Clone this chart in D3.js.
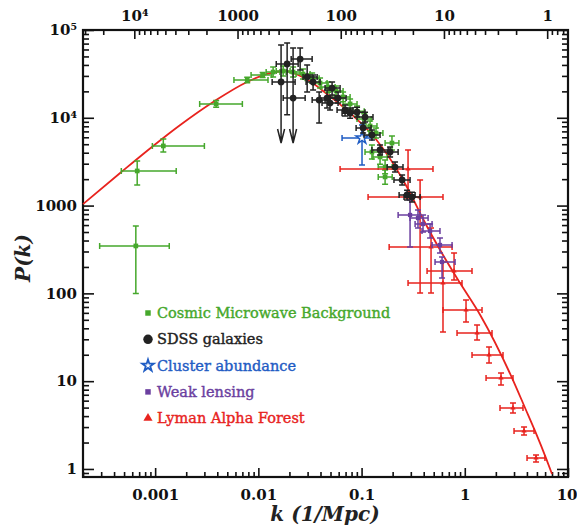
<!DOCTYPE html>
<html>
<head>
<meta charset="utf-8">
<title>P(k)</title>
<style>
  *{margin:0;padding:0;}
  body{background:#fff;}
  svg{display:block;}
  .tick text{font-family:"DejaVu Serif",serif;font-weight:bold;font-size:15px;fill:#111;}
</style>
</head>
<body>
<div class="container"></div>
<script src="https://cdn.jsdelivr.net/npm/d3@7/dist/d3.min.js"></script>
<script>
var width = 577, height = 528;
var plotLeft = 83, plotRight = 568, plotTop = 30, plotBottom = 477;

// tick labels
var kTicks = [0.001, 0.01, 0.1, 1, 10];
var kTickLabels = ["0.001", "0.01", "0.1", "1", "10"];
var pTicks = [1, 10, 100, 1000, 1e4, 1e5];
var pTickLabels = ["1", "10", "100", "1000", "10\u2074", "10\u2075"];
var lambdaTicks = [1e4, 1000, 100, 10, 1];
var lambdaTickLabels = ["10\u2074", "1000", "100", "10", "1"];

// model curve
var theoryK = [2.0e-4, 4.58e-4, 9.56e-4, 1.75e-3, 3.65e-3, 7.78e-3, 0.0122, 0.0182, 0.0243, 0.0324,
               0.0474, 0.0774, 0.135, 0.282, 0.394, 0.615, 0.90, 1.41, 2.93, 3.84, 4.79, 6.12, 7.0];
var theoryP = [1040, 2350, 4775, 8280, 15140, 25600, 31550, 34100, 30700, 25600,
               18200, 11350, 5890, 1545, 703, 274, 131, 56.8, 10.3, 4.95, 2.71, 1.33, 0.877];

// [k, P, kLo, kHi, PLo, PHi]
var cmbData = [
  [6.5e-4, 347, 2.9e-4, 1.37e-3, 100, 586],
  [6.7e-4, 2480, 4.7e-4, 1.6e-3, 1720, 3220],
  [1.2e-3, 4780, 9.4e-4, 3.0e-3, 4070, 5750],
  [3.9e-3, 14400, 2.7e-3, 7.0e-3, 13200, 15700],
  [7.8e-3, 26900, 5.8e-3, 0.0124, 25000, 29000],
  [0.011, 30700, 0.0085, 0.0135, 28800, 32800],
  [0.0139, 33200, 0.0119, 0.0162, 29100, 37800],
  [0.0174, 34100, 0.0149, 0.0203, 29900, 38900],
  [0.0217, 33200, 0.0186, 0.0254, 29100, 37800],
  [0.0271, 31500, 0.0232, 0.0317, 27600, 35900],
  [0.0332, 28300, 0.0284, 0.0388, 24800, 32300],
  [0.0396, 24900, 0.0339, 0.0463, 21800, 28400],
  [0.0474, 22400, 0.0405, 0.0554, 19600, 25500],
  [0.0566, 20200, 0.0484, 0.0662, 17700, 23000],
  [0.0662, 17300, 0.0566, 0.0774, 15200, 19700],
  [0.0774, 14400, 0.0662, 0.0904, 12600, 16400],
  [0.0904, 11900, 0.0774, 0.106, 10400, 13600],
  [0.106, 9700, 0.0904, 0.124, 8500, 11100],
  [0.121, 8070, 0.104, 0.141, 7080, 9200],
  [0.138, 6710, 0.118, 0.161, 5890, 7650],
  [0.126, 4080, 0.108, 0.147, 3400, 4900],
  [0.151, 3580, 0.129, 0.177, 2950, 4300],
  [0.169, 2750, 0.145, 0.198, 2300, 3300],
  [0.169, 2120, 0.145, 0.198, 1750, 2550],
  [0.197, 5160, 0.169, 0.230, 4300, 6200]
];

var sdssData = [
  [0.0166, 25600, 0.0136, 0.0227, 5160, 67500],
  [0.0190, 41000, 0.0149, 0.0243, 10800, 71100],
  [0.0217, 16800, 0.0174, 0.0284, 5160, 62300],
  [0.0254, 46700, 0.0208, 0.0332, 35000, 62300],
  [0.0297, 29200, 0.0271, 0.0371, 19700, 39900],
  [0.0339, 25600, 0.0290, 0.0396, 20700, 30800],
  [0.0388, 15900, 0.0332, 0.0443, 8730, 19700],
  [0.0463, 16800, 0.0396, 0.0554, 12900, 20700],
  [0.0518, 21800, 0.0443, 0.0619, 18200, 25600],
  [0.0495, 14700, 0.0414, 0.0592, 12300, 17700],
  [0.0592, 16800, 0.0495, 0.0708, 14700, 19700],
  [0.0692, 12300, 0.0579, 0.0828, 10500, 14000],
  [0.0774, 11300, 0.0647, 0.0925, 9900, 12900],
  [0.0904, 11600, 0.0757, 0.108, 10200, 13200],
  [0.108, 10200, 0.0904, 0.129, 8950, 11600],
  [0.1035, 7650, 0.0885, 0.1236, 6700, 8720],
  [0.126, 6370, 0.1057, 0.151, 5590, 7260],
  [0.151, 4300, 0.126, 0.181, 3770, 4900],
  [0.189, 4080, 0.158, 0.226, 3580, 4650],
  [0.211, 2750, 0.177, 0.252, 2410, 3130],
  [0.247, 1960, 0.206, 0.295, 1720, 2230],
  [0.276, 1320, 0.231, 0.330, 1160, 1500],
  [0.308, 1250, 0.258, 0.369, 1100, 1420]
];
// rows whose lower error is only an upper limit (drawn as an arrow)
var sdssUpperLimits = [0, 2];

var clusterData = [
  [0.101, 5890, 0.0647, 0.126, 2900, 8280]
];

var lensingData = [
  [0.295, 782, 0.226, 0.369, 338, 1160],
  [0.352, 722, 0.295, 0.441, 556, 891],
  [0.394, 617, 0.330, 0.482, 500, 782],
  [0.461, 514, 0.385, 0.575, 428, 617],
  [0.575, 356, 0.482, 0.753, 288, 428],
  [0.602, 228, 0.515, 0.805, 150, 260]
];

var lymanData = [
  [0.282, 2610, 0.0619, 0.492, 1220, 4300],
  [0.369, 1250, 0.1156, 0.615, 101, 1960],
  [0.471, 338, 0.185, 0.753, 101, 556],
  [0.787, 180, 0.431, 1.175, 142, 288],
  [0.615, 131, 0.282, 0.940, 36.3, 228],
  [1.028, 64.7, 0.615, 1.469, 47.2, 84.1],
  [1.315, 35.4, 0.841, 1.836, 29.5, 43.6],
  [1.718, 19.9, 1.175, 2.346, 16.1, 24.5],
  [2.244, 10.9, 1.607, 2.931, 9.06, 12.4],
  [2.931, 4.95, 2.194, 3.664, 4.34, 5.65],
  [3.750, 2.71, 3.0, 4.69, 2.44, 3.01],
  [4.90, 1.33, 4.01, 5.98, 1.20, 1.44]
];

var legendLabels = ["Cosmic Microwave Background", "SDSS galaxies", "Cluster abundance", "Weak lensing", "Lyman Alpha Forest"];
var legendColors = ["#46a82c", "#222222", "#1f5cc4", "#6b3fa0", "#e8231e"];

var green = legendColors[0], black = legendColors[1], blue = legendColors[2], purple = legendColors[3], red = legendColors[4];

var svg = d3.select(".container").append("svg")
    .attr("width", width)
    .attr("height", height);

var x = d3.scaleLog().domain([2e-4, 10]).range([plotLeft, plotRight]);
var y = d3.scaleLog().domain([0.81, 1e5]).range([plotBottom, plotTop]);
// wavelength 2*pi/k on the top axis
var xTop = d3.scaleLog().domain([2 * Math.PI / 2e-4, 2 * Math.PI / 10]).range([plotLeft, plotRight]);

function isDecade(v) {
  var l = Math.log10(v);
  return Math.abs(l - Math.round(l)) < 1e-6;
}
function minorTicks(scale) {
  return scale.ticks().filter(function (v) { return !isDecade(v); });
}

// minor ticks (no labels)
svg.append("g").attr("transform", "translate(0," + plotBottom + ")")
   .call(d3.axisBottom(x).tickValues(minorTicks(x)).tickSize(-5).tickFormat(""));
svg.append("g").attr("transform", "translate(0," + plotTop + ")")
   .call(d3.axisTop(xTop).tickValues(minorTicks(xTop)).tickSize(-5).tickFormat(""));
svg.append("g").attr("transform", "translate(" + plotLeft + ",0)")
   .call(d3.axisLeft(y).tickValues(minorTicks(y)).tickSize(-6).tickFormat(""));
svg.append("g").attr("transform", "translate(" + plotRight + ",0)")
   .call(d3.axisLeft(y).tickValues(minorTicks(y)).tickSize(6).tickFormat(""));

// major ticks with labels
var bottomAxis = svg.append("g").attr("transform", "translate(0," + plotBottom + ")")
   .call(d3.axisBottom(x).tickValues(kTicks).tickSize(-9).tickPadding(12)
     .tickFormat(function (d, i) { return kTickLabels[i]; }));
// keep the last label inside the window
bottomAxis.selectAll(".tick text").filter(function (d) { return d === 10; })
   .attr("text-anchor", "end").attr("dx", 9);
svg.append("g").attr("transform", "translate(0," + plotTop + ")")
   .call(d3.axisTop(xTop).tickValues(lambdaTicks).tickSize(-9).tickPadding(9)
     .tickFormat(function (d, i) { return lambdaTickLabels[i]; }));
svg.append("g").attr("transform", "translate(" + plotLeft + ",0)")
   .call(d3.axisLeft(y).tickValues(pTicks).tickSize(-11).tickPadding(6)
     .tickFormat(function (d, i) { return pTickLabels[i]; }));
svg.append("g").attr("transform", "translate(" + plotRight + ",0)")
   .call(d3.axisLeft(y).tickValues(pTicks).tickSize(11).tickFormat(""));

svg.selectAll(".domain").remove();
svg.selectAll(".tick line").attr("stroke", "#111").attr("stroke-width", 1.6);

// frame
svg.append("rect")
   .attr("x", plotLeft).attr("y", plotTop)
   .attr("width", plotRight - plotLeft).attr("height", plotBottom - plotTop)
   .attr("fill", "none").attr("stroke", "#111").attr("stroke-width", 2.2);

// theory curve
var line = d3.line()
    .x(function (d, i) { return x(theoryK[i]); })
    .y(function (d, i) { return y(theoryP[i]); })
    .curve(d3.curveMonotoneX);
svg.append("path")
   .attr("d", line(theoryK))
   .attr("fill", "none").attr("stroke", red).attr("stroke-width", 1.8);

// error bars
function barPath(d, cap, noLowCap) {
  var cx = x(d[0]), cy = y(d[1]);
  var x0 = x(d[2]), x1 = x(d[3]), y0 = y(d[4]), y1 = y(d[5]);
  var p = "M" + x0 + "," + cy + "H" + x1 +
          "M" + x0 + "," + (cy - cap) + "V" + (cy + cap) +
          "M" + x1 + "," + (cy - cap) + "V" + (cy + cap) +
          "M" + cx + "," + y1 + "V" + y0 +
          "M" + (cx - cap) + "," + y1 + "H" + (cx + cap);
  if (!noLowCap) p += "M" + (cx - cap) + "," + y0 + "H" + (cx + cap);
  else p += "M" + (cx - 3.5) + "," + (y0 - 14) + "L" + cx + "," + y0 + "L" + (cx + 3.5) + "," + (y0 - 14);
  return p;
}

function drawSeries(rows, color, symbol, size, hollow, limits) {
  var g = svg.append("g");
  g.selectAll("path.bar").data(rows).enter().append("path")
    .attr("class", "bar")
    .attr("d", function (d, i) { return barPath(d, 3, limits && limits.indexOf(i) >= 0); })
    .attr("fill", "none").attr("stroke", color).attr("stroke-width", 1.5);
  g.selectAll("path.mark").data(rows).enter().append("path")
    .attr("class", "mark")
    .attr("transform", function (d) { return "translate(" + x(d[0]) + "," + y(d[1]) + ")"; })
    .attr("d", d3.symbol().type(symbol).size(size))
    .attr("fill", hollow ? "#fff" : color)
    .attr("stroke", color).attr("stroke-width", hollow ? 1.5 : 0);
}

drawSeries(cmbData, green, d3.symbolSquare, 22, false);
drawSeries(lymanData, red, d3.symbolTriangle, 12, false);
drawSeries(lensingData, purple, d3.symbolSquare, 18, false);
drawSeries(clusterData, blue, d3.symbolStar, 45, true);
drawSeries(sdssData, black, d3.symbolCircle, 36, false, sdssUpperLimits);

// legend
var legendSymbols = [d3.symbolSquare, d3.symbolCircle, d3.symbolStar, d3.symbolSquare, d3.symbolTriangle];
var legendSizes = [30, 70, 42, 30, 36];
var legend = svg.append("g").attr("transform", "translate(148,313)");
var item = legend.selectAll("g").data(legendLabels).enter().append("g")
    .attr("transform", function (d, i) { return "translate(0," + (i * 26.3) + ")"; });
item.append("path")
    .attr("d", function (d, i) { return d3.symbol().type(legendSymbols[i]).size(legendSizes[i])(); })
    .attr("fill", function (d, i) { return i === 2 ? "#fff" : legendColors[i]; })
    .attr("stroke", function (d, i) { return legendColors[i]; })
    .attr("stroke-width", function (d, i) { return i === 2 ? 1.8 : 0; });
item.append("text")
    .attr("x", 9).attr("y", 5)
    .attr("font-family", "DejaVu Serif, serif")
    .attr("font-size", 14.5)
    .attr("fill", function (d, i) { return legendColors[i]; })
    .attr("stroke", function (d, i) { return legendColors[i]; })
    .attr("stroke-width", 0.4)
    .text(function (d) { return d; });

// axis titles
svg.append("text")
   .attr("x", 325).attr("y", 521)
   .attr("text-anchor", "middle")
   .attr("font-family", "DejaVu Serif, serif")
   .attr("font-style", "italic").attr("font-weight", "bold")
   .attr("font-size", 20).attr("fill", "#222")
   .text("k (1/Mpc)");
svg.append("text")
   .attr("transform", "translate(30,258) rotate(-90)")
   .attr("text-anchor", "middle")
   .attr("font-family", "DejaVu Serif, serif")
   .attr("font-style", "italic").attr("font-weight", "bold")
   .attr("font-size", 20).attr("fill", "#222")
   .text("P(k)");
</script>
</body>
</html>
